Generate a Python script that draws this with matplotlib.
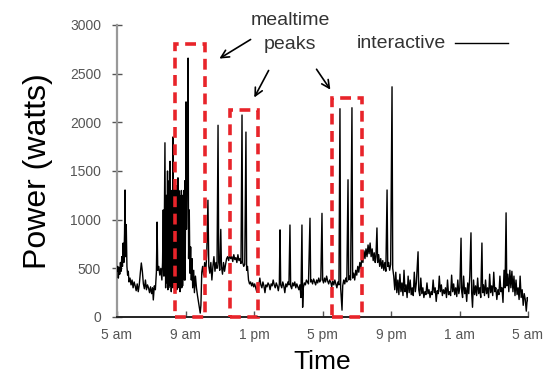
import matplotlib
matplotlib.use("Agg")
import matplotlib.pyplot as plt
from matplotlib.patches import Rectangle

plt.rcParams['font.family'] = ['Liberation Sans', 'DejaVu Sans']

# Household power trace, (hours after 5 am, watts)
early_morning = [(0.00, 470), (0.04, 520), (0.08, 400), (0.12, 510), (0.16, 440), (0.20, 560),
                 (0.24, 470), (0.28, 620), (0.32, 520), (0.36, 760), (0.40, 560), (0.44, 860),
                 (0.47, 1305), (0.50, 620), (0.54, 950), (0.58, 520), (0.62, 430), (0.66, 470),
                 (0.70, 360), (0.76, 400), (0.82, 330), (0.88, 380), (0.94, 300), (1.00, 360),
                 (1.06, 320), (1.12, 270), (1.18, 340), (1.24, 260), (1.30, 330), (1.36, 450),
                 (1.42, 555), (1.48, 470), (1.54, 340), (1.60, 290), (1.66, 380), (1.72, 280),
                 (1.78, 330), (1.84, 300), (1.90, 250), (1.96, 310), (2.02, 240), (2.08, 300),
                 (2.12, 175), (2.18, 320), (2.24, 280), (2.30, 460), (2.34, 975), (2.38, 480),
                 (2.44, 520), (2.50, 430), (2.56, 500), (2.62, 380)]

breakfast = [(2.66, 560), (2.70, 1100), (2.74, 420), (2.80, 1790), (2.84, 300), (2.88, 1250),
             (2.92, 350), (2.95, 1500), (2.97, 280), (3.00, 1350), (3.02, 300), (3.05, 1400),
             (3.07, 380), (3.10, 1600), (3.12, 320), (3.15, 1250), (3.17, 260), (3.20, 1300),
             (3.22, 300), (3.25, 1200), (3.27, 1850), (3.29, 350), (3.32, 1300), (3.34, 300),
             (3.37, 1350), (3.39, 280), (3.42, 1250), (3.44, 420), (3.47, 1350), (3.49, 280),
             (3.52, 1300), (3.54, 300), (3.56, 1430), (3.58, 350), (3.61, 1300), (3.63, 300),
             (3.66, 1250), (3.68, 260), (3.71, 1200), (3.73, 320), (3.76, 1300), (3.78, 300),
             (3.81, 1250), (3.83, 320), (3.86, 1150), (3.88, 420), (3.91, 1300), (3.93, 380),
             (3.96, 1400), (3.98, 380), (4.01, 1300), (4.03, 2210), (4.06, 900), (4.10, 1500),
             (4.15, 2660), (4.18, 600), (4.22, 1100), (4.26, 450), (4.30, 720), (4.34, 380),
             (4.38, 600), (4.42, 300), (4.48, 480), (4.52, 250), (4.58, 420), (4.64, 300),
             (4.70, 220), (4.76, 150), (4.82, 80), (4.86, 40), (4.90, 120), (4.95, 460)]

lunch = [(5.00, 520), (5.06, 430), (5.12, 560), (5.18, 460), (5.24, 640), (5.31, 1200),
         (5.36, 520), (5.42, 450), (5.48, 560), (5.54, 380), (5.60, 520), (5.66, 620),
         (5.72, 470), (5.78, 560), (5.84, 500), (5.90, 1970), (5.94, 560), (6.00, 480),
         (6.06, 900), (6.10, 520), (6.16, 440), (6.22, 560), (6.28, 470), (6.34, 540),
         (6.40, 600), (6.46, 620), (6.52, 580), (6.58, 640), (6.64, 600), (6.70, 620),
         (6.76, 570), (6.82, 640), (6.88, 590), (6.94, 610), (7.00, 560), (7.06, 640),
         (7.12, 580), (7.18, 600), (7.24, 550), (7.30, 2075), (7.34, 560), (7.40, 520),
         (7.46, 540), (7.53, 1900), (7.57, 480), (7.62, 520), (7.68, 380), (7.74, 340),
         (7.80, 360)]

afternoon = [(7.86, 320), (7.92, 350), (7.98, 310), (8.04, 340), (8.10, 300), (8.16, 260),
             (8.22, 350), (8.28, 320), (8.34, 400), (8.40, 330), (8.46, 300), (8.52, 360),
             (8.58, 320), (8.64, 250), (8.70, 330), (8.76, 310), (8.82, 350), (8.88, 330),
             (8.94, 280), (9.00, 340), (9.06, 320), (9.12, 380), (9.18, 330), (9.24, 300),
             (9.30, 350), (9.36, 320), (9.42, 270), (9.48, 340), (9.52, 895), (9.56, 330),
             (9.62, 300), (9.68, 360), (9.74, 320), (9.80, 250), (9.86, 340), (9.92, 310),
             (9.98, 360), (10.04, 330), (10.10, 945), (10.14, 320), (10.20, 290), (10.26, 350),
             (10.32, 320), (10.38, 360), (10.44, 300), (10.50, 340), (10.56, 310), (10.62, 280),
             (10.68, 330), (10.74, 200), (10.80, 945), (10.84, 100), (10.88, 300), (10.94, 350),
             (11.00, 330), (11.06, 380), (11.12, 360), (11.18, 340), (11.27, 1015), (11.31, 360),
             (11.36, 380), (11.42, 340), (11.48, 390), (11.54, 360), (11.60, 330), (11.66, 380),
             (11.72, 350), (11.78, 400), (11.84, 360), (11.90, 380), (11.97, 1065), (12.01, 380),
             (12.06, 350), (12.12, 400), (12.18, 360), (12.24, 420), (12.30, 370), (12.36, 340),
             (12.42, 380)]

dinner = [(12.48, 360), (12.54, 310), (12.60, 370), (12.66, 330), (12.72, 380), (12.78, 340),
          (12.84, 300), (12.90, 360), (12.96, 330), (13.02, 2140), (13.06, 300), (13.14, 70),
          (13.18, 320), (13.24, 380), (13.30, 340), (13.36, 400), (13.42, 360), (13.49, 1410),
          (13.53, 380), (13.58, 420), (13.64, 380), (13.72, 2150), (13.76, 400), (13.82, 450),
          (13.88, 380), (13.94, 480), (14.00, 430), (14.06, 520), (14.12, 460), (14.18, 560),
          (14.24, 500), (14.30, 620), (14.36, 560), (14.42, 680), (14.48, 600), (14.54, 700),
          (14.60, 620), (14.66, 740), (14.72, 650), (14.78, 760), (14.84, 620), (14.90, 700),
          (14.96, 580), (15.02, 660), (15.08, 560), (15.12, 620), (15.18, 915), (15.22, 560),
          (15.28, 640), (15.34, 520), (15.40, 600), (15.46, 500), (15.52, 580), (15.58, 480),
          (15.64, 560), (15.70, 470), (15.77, 1305), (15.81, 520), (15.86, 560), (15.92, 480),
          (15.98, 540), (16.06, 2365), (16.10, 500)]

night = [(16.16, 420), (16.22, 280), (16.28, 460), (16.34, 250), (16.40, 380), (16.46, 230),
         (16.52, 440), (16.58, 260), (16.64, 350), (16.70, 220), (16.76, 480), (16.82, 260),
         (16.88, 330), (16.94, 200), (17.00, 420), (17.06, 250), (17.12, 380), (17.18, 230),
         (17.24, 300), (17.30, 220), (17.36, 460), (17.42, 260), (17.48, 350), (17.58, 670),
         (17.62, 280), (17.68, 220), (17.74, 400), (17.80, 240), (17.86, 300), (17.92, 200),
         (17.98, 260), (18.04, 230), (18.10, 350), (18.16, 240), (18.22, 280), (18.28, 200),
         (18.34, 260), (18.40, 230), (18.46, 380), (18.52, 250), (18.58, 300), (18.64, 160),
         (18.70, 270), (18.76, 240), (18.82, 420), (18.88, 260), (18.94, 330), (19.00, 220),
         (19.06, 280), (19.12, 240), (19.18, 300), (19.24, 200), (19.30, 380), (19.36, 230),
         (19.42, 260), (19.48, 220), (19.54, 430), (19.60, 260), (19.66, 340), (19.72, 230),
         (19.78, 300), (19.84, 210), (19.90, 380), (19.96, 240), (20.02, 300), (20.09, 810),
         (20.13, 260), (20.18, 200), (20.24, 420), (20.30, 240), (20.36, 300), (20.42, 160),
         (20.48, 350), (20.54, 240), (20.60, 420), (20.67, 865), (20.71, 250), (20.76, 100),
         (20.82, 380), (20.88, 230), (20.94, 320), (21.00, 220), (21.06, 400), (21.12, 240),
         (21.18, 300), (21.24, 200), (21.31, 760), (21.35, 250), (21.40, 330), (21.46, 220),
         (21.52, 380), (21.58, 240), (21.64, 300), (21.70, 200), (21.76, 440), (21.82, 250),
         (21.88, 320), (21.94, 220), (22.00, 460), (22.06, 260), (22.12, 300), (22.18, 180),
         (22.24, 280), (22.30, 230), (22.36, 420), (22.42, 260), (22.48, 300), (22.54, 150),
         (22.60, 480), (22.66, 300), (22.72, 1070), (22.76, 320), (22.82, 440), (22.88, 260),
         (22.94, 480), (23.00, 300), (23.06, 470), (23.12, 260), (23.18, 420), (23.24, 220),
         (23.30, 380), (23.36, 230), (23.42, 300), (23.48, 180), (23.54, 420), (23.60, 200),
         (23.66, 280), (23.72, 120), (23.78, 240), (23.84, 180), (23.90, 60), (23.96, 200),
         (24.00, 170)]

tick_hours = [0, 4, 8, 12, 16, 20, 24]
tick_labels = ['5 am', '9 am', '1 pm', '5 pm', '9 pm', '1 am', '5 am']
y_ticks = [0, 500, 1000, 1500, 2000, 2500, 3000]

# Mealtime windows: (start hour, end hour, box top in watts)
meal_boxes = [(3.39, 5.14, 2800), (6.60, 8.23, 2130), (12.55, 14.30, 2250)]

trace = early_morning + breakfast + lunch + afternoon + dinner + night
hours = [h for h, _ in trace]
watts = [w for _, w in trace]

fig = plt.figure(figsize=(5.49, 3.88), dpi=100)
ax = fig.add_axes([117 / 549, 1 - 317 / 388, 411 / 549, 292 / 388])

ax.plot(hours, watts, color='black', lw=1.0, zorder=3)

for x0, x1, top in meal_boxes:
    ax.add_patch(Rectangle((x0, 0), x1 - x0, top, fill=False, edgecolor='#e8242a',
                           lw=2.6, linestyle=(0, (3.0, 1.8)), zorder=5, clip_on=False))

ax.set_xlim(0, 24)
ax.set_ylim(0, 3000)
ax.set_xticks(tick_hours)
ax.set_xticklabels(tick_labels)
ax.set_yticks(y_ticks)
ax.tick_params(axis='x', direction='in', length=4, width=1, colors='#555555',
               labelsize=10, pad=8)
ax.tick_params(axis='y', direction='inout', length=7, width=1, colors='#555555',
               labelsize=10, pad=8)

for side in ('top', 'right'):
    ax.spines[side].set_visible(False)
ax.spines['left'].set_color('#999999')
ax.spines['left'].set_linewidth(1.6)
ax.spines['bottom'].set_color('#222222')
ax.spines['bottom'].set_linewidth(1.4)

ax.set_ylabel('Power (watts)', fontsize=23, labelpad=12)
ax.set_xlabel('Time', fontsize=19, labelpad=6)

# Annotation for the mealtime peaks
ax.text(10.1, 3045, 'mealtime', ha='center', va='center', fontsize=14, color='#333333',
        clip_on=False)
ax.text(10.1, 2800, 'peaks', ha='center', va='center', fontsize=14, color='#333333',
        clip_on=False)
arrow = dict(arrowstyle='->', color='black', lw=1.2, mutation_scale=14)
ax.annotate('', xy=(5.84, 2640), xytext=(7.94, 2866), arrowprops=arrow, annotation_clip=False)
ax.annotate('', xy=(7.94, 2230), xytext=(8.93, 2558), arrowprops=arrow, annotation_clip=False)
ax.annotate('', xy=(12.55, 2312), xytext=(11.56, 2569), arrowprops=arrow, annotation_clip=False)

# Legend entry
ax.text(16.58, 2815, 'interactive', ha='center', va='center', fontsize=14, color='#333333')
ax.plot([19.74, 22.83], [2815, 2815], color='black', lw=1.0)

fig.savefig('out.png', dpi=100)
